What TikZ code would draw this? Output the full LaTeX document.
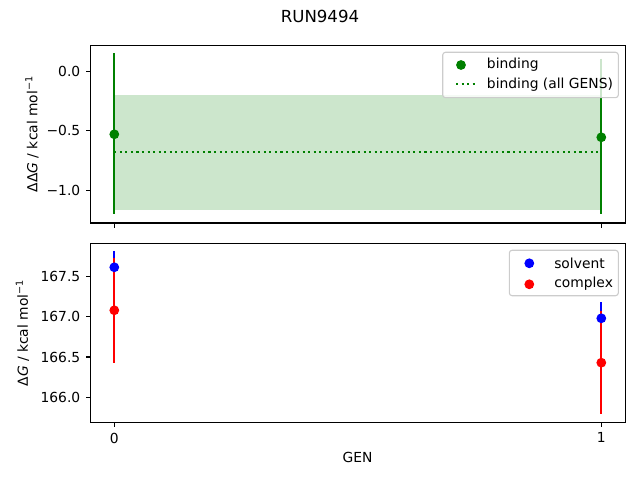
\documentclass[tikz,border=0pt]{standalone}
\usepackage{fontspec}
\setmainfont{DejaVu Sans}
\definecolor{mplgreen}{HTML}{008000}
\definecolor{bandgreen}{HTML}{CCE6CC}
\definecolor{legedge}{HTML}{CCCCCC}

\begin{document}
\begin{tikzpicture}[x=0.01in, y=-0.01in,
    spine/.style={line width=0.8pt},
    tickmark/.style={line width=0.8pt},
    bar/.style={line width=1.5pt},
    ticklabel/.style={font=\fontsize{10}{12}\selectfont, inner sep=0pt},
    legendbox/.style={draw=legedge, fill=white, fill opacity=0.8, rounded corners=2pt, line width=0.8pt}]
			%%%%% START %%%%%
			\useasboundingbox (0, 0) rectangle (640, 480);
			
			\node[font=\fontsize{12}{14}\selectfont] (title) at (320, 16.5) {RUN9494};
			
			% top panel: binding
			\fill[bandgreen] (114.3, 95.3) rectangle (601.3, 210.3);
			\draw[mplgreen, line width=1.5pt, dash pattern=on 1.5pt off 2.5pt] (114.3, 152) -- (601.3, 152);
			
			\draw[bar, mplgreen] (114.3, 53.3) -- (114.3, 214.3);
			\draw[bar, mplgreen] (601.3, 59) -- (601.3, 214.3);
			\fill[mplgreen] (114.3, 134.3) circle (4.9);
			\fill[mplgreen] (601.3, 137.3) circle (4.9);
			
			\draw[spine] (90.5, 45.3) rectangle (625.3, 223);
			
			\draw[tickmark] (90.5, 71.2) -- (85.6, 71.2);
			\draw[tickmark] (90.5, 130.9) -- (85.6, 130.9);
			\draw[tickmark] (90.5, 190.6) -- (85.6, 190.6);
			\draw[tickmark] (114.3, 223) -- (114.3, 227.9);
			\draw[tickmark] (601.3, 223) -- (601.3, 227.9);
			
			\node[ticklabel, anchor=east] (ytop0) at (80.5, 71.2) {0.0};
			\node[ticklabel, anchor=east] (ytop1) at (80.5, 130.9) {−0.5};
			\node[ticklabel, anchor=east] (ytop2) at (80.5, 190.6) {−1.0};
			\node[ticklabel, rotate=90] (ylabtop) at (32, 134) {ΔΔ\textit{G} / kcal mol\textsuperscript{−1}};
			
			\draw[legendbox] (442.7, 52.3) rectangle (618.3, 97.7);
			\fill[mplgreen] (461, 65) circle (4.9);
			\draw[mplgreen, line width=1.5pt, dash pattern=on 1.5pt off 2.5pt] (456, 84.3) -- (476, 84.3);
			\node[ticklabel, anchor=west] (legbind) at (486.7, 64.5) {binding};
			\node[ticklabel, anchor=west] (legall) at (486.7, 84.3) {binding (all GENS)};
			
			% bottom panel: solvent and complex
			\draw[bar, blue] (114.3, 251) -- (114.3, 283.6);
			\draw[bar, red] (114.3, 258.3) -- (114.3, 362.7);
			\draw[bar, blue] (601.3, 302.3) -- (601.3, 334.3);
			\draw[bar, red] (601.3, 311) -- (601.3, 413.7);
			\fill[blue] (114.3, 267.3) circle (4.9);
			\fill[red] (114.3, 310.3) circle (4.9);
			\fill[blue] (601.3, 318.3) circle (4.9);
			\fill[red] (601.3, 362.7) circle (4.9);
			
			\draw[spine] (90.5, 243.7) rectangle (625.3, 422.3);
			
			\draw[tickmark] (90.5, 276.3) -- (85.6, 276.3);
			\draw[tickmark] (90.5, 316.7) -- (85.6, 316.7);
			\draw[tickmark] (90.5, 357) -- (85.6, 357);
			\draw[tickmark] (90.5, 397.3) -- (85.6, 397.3);
			\draw[tickmark] (114.3, 422.3) -- (114.3, 427.2);
			\draw[tickmark] (601.3, 422.3) -- (601.3, 427.2);
			
			\node[ticklabel, anchor=east] (ybot0) at (80.5, 276.3) {167.5};
			\node[ticklabel, anchor=east] (ybot1) at (80.5, 316.7) {167.0};
			\node[ticklabel, anchor=east] (ybot2) at (80.5, 357) {166.5};
			\node[ticklabel, anchor=east] (ybot3) at (80.5, 397.3) {166.0};
			\node[ticklabel, rotate=90] (ylabbot) at (22.5, 333) {Δ\textit{G} / kcal mol\textsuperscript{−1}};
			
			\node[ticklabel, anchor=north] (xt0) at (114.3, 432.5) {0};
			\node[ticklabel, anchor=north] (xt1) at (601.3, 432.5) {1};
			\node[ticklabel] (xlab) at (357.5, 457.5) {GEN};
			
			\draw[legendbox] (509.3, 250.3) rectangle (618.3, 295.7);
			\fill[blue] (529.3, 263.3) circle (4.9);
			\fill[red] (529.3, 284.3) circle (4.9);
			\node[ticklabel, anchor=west] (legsolv) at (554, 263) {solvent};
			\node[ticklabel, anchor=west] (legcomp) at (554, 284) {complex};
			
			%%%%% END %%%%%
\end{tikzpicture}
\end{document}
